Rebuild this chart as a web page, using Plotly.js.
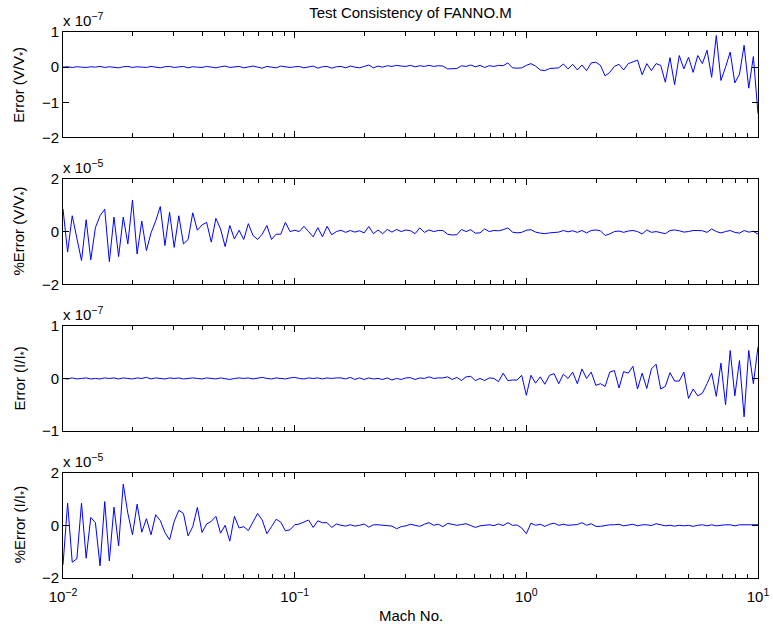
<!DOCTYPE html>
<html><head><meta charset="utf-8">
<script src="https://cdn.plot.ly/plotly-3.0.1.min.js"></script>
<style>html,body{margin:0;padding:0;background:#fff}#chart{width:773px;height:627px}</style>
</head><body><div id="chart"></div>
<script>
// Mach number grid: mantissas per decade
const mantissa = [1.000,1.047,1.096,1.148,1.202,1.259,1.318,1.380,1.445,1.514,
1.585,1.660,1.738,1.820,1.905,1.995,2.089,2.188,2.291,2.399,
2.512,2.630,2.754,2.884,3.020,3.162,3.311,3.467,3.631,3.802,
3.981,4.169,4.365,4.571,4.786,5.012,5.248,5.495,5.754,6.026,
6.310,6.607,6.918,7.244,7.586,7.943,8.318,8.710,9.120,9.550];
const decades = [0.01, 0.1, 1];
const lastMach = 10;
const mach = decades.flatMap(d => mantissa.map(m => +(d*m).toPrecision(4))).concat([lastMach]);

// Error (V/V*), units of 1e-7
const errV = [
0.00,0.01,-0.01,0.01,0.00,-0.01,0.01,0.00,0.02,-0.01,
0.01,0.00,-0.02,0.01,0.02,-0.01,0.01,0.00,-0.01,0.02,
0.00,-0.02,0.01,0.02,-0.01,0.00,0.02,-0.02,0.01,0.00,
-0.01,0.02,0.00,-0.02,0.01,0.03,-0.01,0.00,0.02,-0.02,
0.01,0.03,0.00,-0.03,0.02,0.00,-0.02,0.03,0.01,-0.01,
0.01,0.02,-0.02,0.00,0.03,-0.03,0.01,0.02,-0.03,0.01,
0.02,-0.02,0.03,0.00,-0.02,0.02,0.06,-0.02,0.03,0.00,
0.04,0.02,0.05,0.03,0.02,0.05,0.01,0.04,0.02,0.05,
0.02,0.04,0.03,-0.05,-0.05,-0.04,0.04,0.02,0.06,0.01,
0.05,-0.01,0.04,0.02,0.05,0.04,0.12,-0.02,-0.03,-0.02,
0.05,0.10,0.03,-0.08,-0.10,-0.04,-0.03,-0.02,0.09,-0.05,
0.08,-0.08,0.06,-0.10,0.12,0.14,0.05,-0.25,-0.15,0.02,
0.08,-0.08,0.10,0.15,0.20,-0.22,0.10,-0.10,0.10,0.05,
-0.43,0.27,-0.50,0.33,-0.05,0.28,-0.15,0.33,0.10,0.48,
-0.29,0.90,-0.38,0.00,0.43,-0.45,-0.20,0.62,-0.60,0.30,
-1.33];

// %Error (V/V*), units of 1e-5
const pctV = [
0.86,-0.78,0.60,-0.28,-1.10,0.45,-1.07,0.15,0.60,0.85,
-1.14,0.55,-0.95,0.55,-0.47,1.20,-0.85,0.40,-0.72,-0.05,
0.40,0.95,-0.53,0.73,-0.60,0.60,-0.47,-0.30,0.71,0.05,
0.25,0.35,-0.40,0.50,0.10,-0.57,0.23,-0.28,0.05,-0.30,
0.30,-0.15,-0.30,-0.10,0.23,-0.30,-0.10,-0.10,0.35,0.00,
0.05,0.00,0.20,0.00,-0.20,0.15,-0.20,0.20,-0.12,0.00,
0.05,-0.03,0.04,-0.02,0.03,-0.05,0.19,-0.08,0.06,-0.08,
0.08,-0.02,0.08,0.00,0.06,0.03,-0.08,0.14,-0.03,0.06,
0.00,0.04,0.04,-0.10,-0.13,-0.12,0.08,0.00,0.07,-0.06,
-0.05,0.10,0.00,0.04,0.03,0.07,0.14,-0.02,-0.05,-0.03,
0.05,0.07,-0.02,-0.06,-0.08,-0.05,-0.04,-0.02,0.04,-0.01,
0.03,-0.03,0.04,-0.05,0.04,0.06,0.03,-0.15,-0.09,0.00,
0.02,-0.03,0.02,0.04,0.00,-0.09,0.06,-0.03,0.00,-0.05,
-0.08,0.04,0.06,0.03,-0.02,0.00,0.04,0.04,0.03,-0.03,
0.10,0.00,-0.05,0.00,0.04,-0.03,-0.06,0.04,-0.02,0.01,
-0.10];

// Error (I/I*), units of 1e-7
const errI = [
0.00,-0.01,0.01,-0.01,0.00,0.01,-0.01,0.00,-0.01,0.01,
0.00,0.01,-0.01,0.01,0.00,-0.01,0.01,0.00,0.02,-0.01,
0.01,0.00,-0.01,0.01,0.00,0.01,-0.01,0.00,0.01,0.00,
-0.01,0.01,0.00,-0.01,0.01,0.00,-0.02,0.00,0.01,0.00,
0.01,-0.01,0.00,0.02,0.00,-0.01,0.01,0.00,-0.01,0.01,
0.02,0.00,-0.01,0.01,0.00,0.01,-0.01,0.01,0.00,0.01,
0.01,-0.01,0.02,-0.02,0.01,-0.02,0.01,-0.01,0.00,-0.02,
0.01,-0.03,0.00,-0.02,0.01,0.015,-0.02,0.01,0.00,0.03,
0.00,0.01,0.01,0.03,-0.02,0.02,-0.04,0.03,0.04,-0.04,
0.00,-0.04,0.01,0.00,-0.06,0.10,-0.04,-0.03,-0.03,0.06,
-0.32,0.06,-0.09,0.03,-0.11,0.06,0.09,-0.10,0.08,0.00,
0.12,-0.10,0.18,0.00,0.12,-0.13,-0.10,-0.15,0.12,0.15,
-0.18,0.13,0.10,0.23,-0.20,0.10,-0.19,0.18,0.27,-0.20,
-0.15,0.11,-0.05,-0.05,0.12,-0.38,-0.20,-0.33,-0.28,-0.10,
0.10,-0.34,0.29,-0.50,0.53,-0.33,0.34,-0.73,0.53,-0.10,
0.60];

// %Error (I/I*), units of 1e-5
const pctI = [
-1.50,0.84,-1.40,-1.27,0.84,-1.25,0.30,0.10,-1.54,0.90,
-1.35,0.69,-0.78,1.56,0.46,-0.36,0.80,-0.26,0.25,-0.36,
0.40,0.18,-0.27,-0.55,0.15,0.57,0.45,-0.40,-0.05,0.68,
-0.27,0.05,0.15,0.34,-0.30,0.00,-0.60,0.34,-0.10,-0.05,
-0.20,0.15,0.45,0.20,-0.32,-0.05,0.23,0.12,-0.21,-0.17,
0.02,0.05,0.12,0.20,-0.08,0.17,0.10,0.10,-0.08,0.05,
0.00,-0.03,0.02,-0.03,0.00,0.05,-0.07,0.02,0.02,0.00,
-0.02,-0.03,-0.13,-0.05,-0.02,0.04,0.00,-0.04,0.04,0.10,
0.00,0.04,-0.05,0.07,0.04,0.00,0.03,0.06,-0.01,-0.08,
-0.02,0.00,0.02,-0.01,0.05,-0.01,0.10,0.00,0.01,-0.10,
-0.32,0.08,0.00,0.04,-0.04,0.04,0.08,0.00,0.04,0.00,
0.02,0.03,0.10,0.00,0.06,-0.04,-0.04,0.00,0.02,0.02,
0.04,-0.02,0.02,0.04,-0.02,0.02,0.02,-0.01,0.06,0.02,
-0.02,0.00,-0.03,0.00,-0.02,0.00,-0.04,0.00,0.02,-0.02,
0.02,-0.02,0.01,0.02,0.02,-0.02,0.02,0.02,0.04,0.02,
0.02];

const xTickVals = [0.01, 0.1, 1, 10];
const xTickText = ['10<sup>−2</sup>','10<sup>−1</sup>','10<sup>0</sup>','10<sup>1</sup>'];
const minorMult = [2,3,4,5,6,7,8,9];
const minorTicks = decades.flatMap(d => minorMult.map(m => d*m));

const yLabels = ['Error (V/V<sub>*</sub>)', '%Error (V/V<sub>*</sub>)', 'Error (I/I<sub>*</sub>)', '%Error (I/I<sub>*</sub>)'];
const exponents = ['−7', '−5', '−7', '−5'];
const yRanges = [[-2,1],[-2,2],[-1,1],[-2,2]];
const yTicks = [[-2,-1,0,1],[-2,0,2],[-1,0,1],[-2,0,2]];
const series = [errV, pctV, errI, pctI];
const domains = [[0.807,1.0],[0.538,0.731],[0.269,0.462],[0,0.193]];

const FONT = 'Liberation Sans, Arial, Helvetica, sans-serif';
const H = 627, T = 32, B = 49, PH = H - T - B;

const traces = series.map((y, k) => ({
  x: mach, y: y, type: 'scatter', mode: 'lines',
  line: {color: '#0000ff', width: 1},
  xaxis: 'x' + (k ? k+1 : ''), yaxis: 'y' + (k ? k+1 : ''),
  hoverinfo: 'skip'
}));

const layout = {
  width: 773, height: 627,
  margin: {l: 63, r: 15, t: T, b: B},
  paper_bgcolor: '#fff', plot_bgcolor: '#fff',
  font: {family: FONT, size: 15, color: '#000'},
  showlegend: false,
  title: {text: 'Test Consistency of FANNO.M', font: {size: 15, color: '#000'},
          x: 0.5, xref: 'paper', xanchor: 'center', y: 1 - 13/H, yref: 'container', yanchor: 'middle'},
  annotations: []
};

series.forEach((y, k) => {
  const n = k ? (k+1) : '';
  layout['xaxis' + n] = {
    type: 'log', range: [-2, 1], anchor: 'y' + n, domain: [0, 1],
    tickmode: 'array', tickvals: xTickVals, ticktext: xTickText,
    showticklabels: k === 3, ticks: 'inside', ticklen: 6, tickwidth: 1, tickcolor: '#000',
    ticklabelstandoff: 5,
    showline: true, linecolor: '#000', linewidth: 1, mirror: 'ticks',
    showgrid: false, zeroline: false,
    tickfont: {size: 15, color: '#000'},
    minor: {tickmode: 'array', tickvals: minorTicks, ticks: 'inside', ticklen: 4, tickcolor: '#000', tickwidth: 1, showgrid: false}
  };
  layout['yaxis' + n] = {
    range: yRanges[k], anchor: 'x' + n, domain: domains[k],
    tickmode: 'array', tickvals: yTicks[k], ticktext: yTicks[k].map(v => v < 0 ? '−' + Math.abs(v) : String(v)),
    ticks: 'inside', ticklen: 6, tickwidth: 1, tickcolor: '#000',
    showline: true, linecolor: '#000', linewidth: 1, mirror: 'ticks',
    showgrid: false, zeroline: false,
    tickfont: {size: 15, color: '#000'}
  };
  const dm = domains[k];
  layout.annotations.push({
    text: yLabels[k], textangle: -90, xref: 'paper', yref: 'paper',
    x: (20 - 63) / 695, y: (dm[0] + dm[1]) / 2, xanchor: 'center', yanchor: 'middle',
    showarrow: false, font: {size: 15, color: '#000'}
  });
  layout.annotations.push({
    text: 'x 10<sup>' + exponents[k] + '</sup>', xref: 'paper', yref: 'paper',
    x: 0, y: dm[1], xanchor: 'left', yanchor: 'bottom', xshift: -2, yshift: 1,
    showarrow: false, font: {size: 15, color: '#000'}
  });
});

layout.annotations.push({
  text: 'Mach No.', xref: 'paper', yref: 'paper', x: 0.5, y: -(615 - (H - B)) / PH,
  xanchor: 'center', yanchor: 'middle', showarrow: false, font: {size: 15, color: '#000'}
});

Plotly.newPlot('chart', traces, layout, {staticPlot: true, displayModeBar: false});
</script>
</body></html>
